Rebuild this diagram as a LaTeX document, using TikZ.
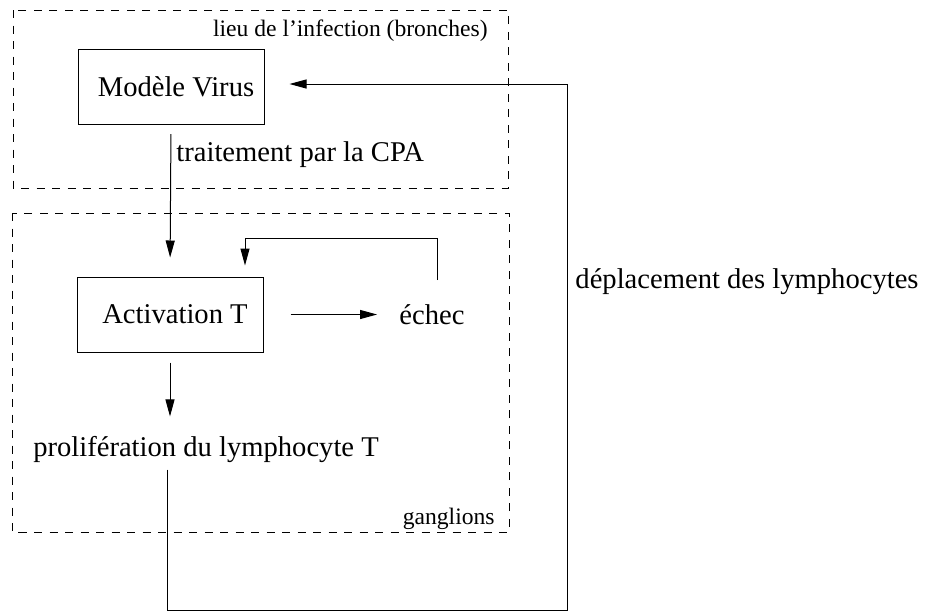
\documentclass[tikz,border=0pt]{standalone}
\usepackage{fontspec}
\setmainfont{Liberation Serif}
\usetikzlibrary{arrows.meta}

\begin{document}
\begin{tikzpicture}[x=0.5pt,y=-0.5pt,
  box/.style={draw, line width=0.5pt, minimum width=93pt, minimum height=37.5pt, inner sep=0pt},
  txt/.style={inner sep=0pt, font=\fontsize{14.3}{17}\selectfont},
  small/.style={inner sep=0pt, font=\fontsize{11.8}{14}\selectfont},
  region/.style={line width=0.5pt, dash pattern=on 4pt off 3.75pt},
  arr/.style={line width=0.5pt, -{Triangle[length=8.5pt,width=4.5pt]}},
  wire/.style={line width=0.5pt}]
  \useasboundingbox (0,0) rectangle (927,612);

  % the two places
  \draw[region] (13,10) rectangle (508,188);
  \draw[region] (12,213) rectangle (509,532);
  \node[small, anchor=east] (lieu) at (488,31) {lieu de l’infection (bronches)};
  \node[small, anchor=east] (gang) at (495,519) {ganglions};

  % boxes and texts
  \node[box, txt] (virus) at (171,87) {\hspace{5pt}Modèle Virus};
  \node[txt, anchor=west] (cpa) at (176,155) {traitement par la CPA};
  \node[box, txt] (act) at (170,314.5) {\hspace{5pt}Activation T};
  \node[txt] (echec) at (432,314.5) {échec};
  \node[txt] (prolif) at (206,450) {prolifération du lymphocyte T};
  \node[txt] (depl) at (747,282) {déplacement des lymphocytes};

  \coordinate (fb) at (245,238);
  \coordinate (bl) at (167,610.5);
  \coordinate (br) at (567,610.5);

  % connectors
  \draw[arr, shorten <=4.5pt, shorten >=9.5pt] (virus.south) -- (act.north);
  \draw[arr, shorten <=13.5pt, shorten >=11pt] (act.east) -- (echec.west);
  \draw[arr, shorten <=12pt] ([xshift=2.5pt]echec.north) |- (fb) -- ([yshift=5.5pt]fb |- act.north);
  \draw[arr, shorten <=5pt, shorten >=10pt] (act.south) -- (act.south |- prolif.north);
  \draw[arr, shorten >=12.5pt] ([yshift=-3pt]prolif.south -| bl) -- (bl) -- (br) |- ([yshift=1.5pt]virus.east);
\end{tikzpicture}
\end{document}
